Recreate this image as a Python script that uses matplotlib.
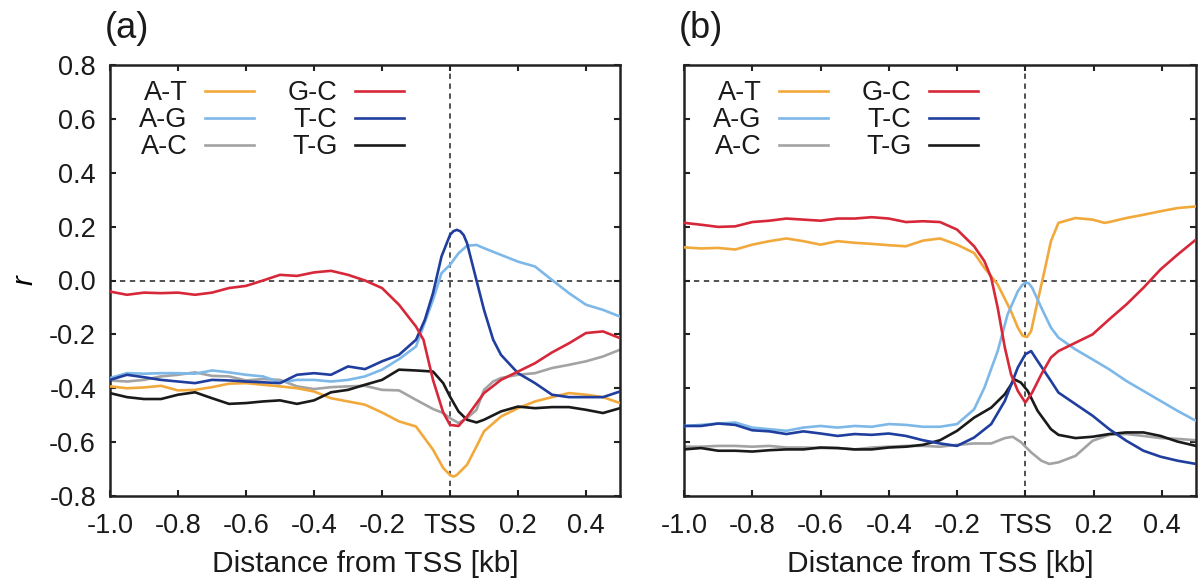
import matplotlib
matplotlib.use("Agg")
import matplotlib.pyplot as plt

plt.rcParams['font.family'] = ['Liberation Sans', 'DejaVu Sans']

# ---------------- data : panel (a) ----------------
xa_std = [-1.0, -0.95, -0.9, -0.85, -0.8, -0.75, -0.7, -0.65, -0.6, -0.55, -0.5,
          -0.45, -0.4, -0.35, -0.3, -0.25, -0.2, -0.15, -0.1]

a_gc_x = xa_std + [-0.078, -0.05, -0.02, 0.0, 0.025, 0.05, 0.1, 0.15, 0.2, 0.25, 0.3, 0.35, 0.4, 0.45, 0.5]
a_gc_y = [-0.041, -0.053, -0.045, -0.047, -0.045, -0.053, -0.045, -0.028, -0.02, 0.0, 0.021,
          0.017, 0.03, 0.036, 0.021, 0.0, -0.028, -0.09, -0.171,
          -0.22, -0.369, -0.49, -0.536, -0.54, -0.505, -0.418, -0.369, -0.338, -0.307, -0.267, -0.233, -0.195, -0.189, -0.214]

a_tc_x = xa_std + [-0.074, -0.05, -0.025, 0.0, 0.01, 0.02, 0.03, 0.04, 0.05, 0.078, 0.1, 0.127, 0.15, 0.2, 0.25, 0.3, 0.35, 0.4, 0.45, 0.5]
a_tc_y = [-0.369, -0.35, -0.359, -0.369, -0.375, -0.381, -0.369, -0.371, -0.375, -0.378, -0.381,
          -0.35, -0.344, -0.35, -0.319, -0.329, -0.3, -0.276, -0.22,
          -0.146, -0.047, 0.089, 0.169, 0.183, 0.188, 0.183, 0.169, 0.139, 0.0, -0.109, -0.22, -0.276, -0.344, -0.381, -0.424, -0.433, -0.433, -0.433, -0.412]

a_ag_x = xa_std + [-0.05, -0.025, 0.0, 0.025, 0.05, 0.078, 0.1, 0.15, 0.2, 0.25, 0.3, 0.35, 0.4, 0.45, 0.5]
a_ag_y = [-0.362, -0.344, -0.346, -0.344, -0.344, -0.346, -0.334, -0.341, -0.35, -0.356, -0.378,
          -0.369, -0.369, -0.375, -0.369, -0.356, -0.331, -0.292, -0.245,
          -0.072, 0.027, 0.058, 0.101, 0.129, 0.132, 0.12, 0.095, 0.07, 0.052, 0.002, -0.047, -0.09, -0.109, -0.134]

a_ac_x = xa_std + [-0.05, -0.02, 0.0, 0.025, 0.05, 0.078, 0.1, 0.127, 0.15, 0.2, 0.25, 0.3, 0.35, 0.4, 0.45, 0.5]
a_ac_y = [-0.371, -0.375, -0.369, -0.356, -0.35, -0.341, -0.354, -0.356, -0.371, -0.366, -0.369,
          -0.393, -0.403, -0.396, -0.393, -0.391, -0.406, -0.408, -0.443,
          -0.477, -0.492, -0.511, -0.529, -0.511, -0.48, -0.406, -0.375, -0.362, -0.35, -0.344, -0.325, -0.313, -0.3, -0.282, -0.257]

a_at_x = xa_std + [-0.05, -0.02, 0.0, 0.01, 0.02, 0.05, 0.078, 0.1, 0.15, 0.2, 0.25, 0.3, 0.35, 0.4, 0.45, 0.5]
a_at_y = [-0.393, -0.4, -0.397, -0.391, -0.408, -0.406, -0.396, -0.383, -0.381, -0.387, -0.393,
          -0.4, -0.412, -0.437, -0.449, -0.461, -0.49, -0.523, -0.542,
          -0.628, -0.696, -0.722, -0.728, -0.722, -0.684, -0.616, -0.56, -0.505, -0.474, -0.449, -0.433, -0.418, -0.424, -0.433, -0.455]

a_tg_x = xa_std + [-0.05, -0.02, 0.0, 0.025, 0.05, 0.078, 0.1, 0.15, 0.2, 0.25, 0.3, 0.35, 0.4, 0.45, 0.5]
a_tg_y = [-0.418, -0.433, -0.44, -0.44, -0.424, -0.415, -0.437, -0.458, -0.455, -0.449, -0.445,
          -0.458, -0.445, -0.415, -0.406, -0.387, -0.369, -0.331, -0.334,
          -0.338, -0.381, -0.431, -0.486, -0.517, -0.527, -0.517, -0.486, -0.468, -0.474, -0.47, -0.47, -0.48, -0.492, -0.474]

# ---------------- data : panel (b) ----------------
xb_std = [-1.0, -0.95, -0.9, -0.85, -0.8, -0.75, -0.7, -0.65, -0.6, -0.55, -0.5,
          -0.45, -0.4, -0.35, -0.3, -0.25, -0.2]

b_gc_x = xb_std + [-0.15, -0.12, -0.1, -0.081, -0.06, -0.042, -0.022, 0.0, 0.02, 0.047, 0.075, 0.097, 0.147, 0.197, 0.246, 0.296, 0.346, 0.396, 0.446, 0.5]
b_gc_y = [0.214, 0.207, 0.199, 0.201, 0.217, 0.222, 0.23, 0.226, 0.222, 0.23, 0.23,
          0.235, 0.23, 0.217, 0.22, 0.217, 0.189,
          0.127, 0.072, 0.01, -0.101, -0.249, -0.348, -0.41, -0.453, -0.416, -0.348, -0.286, -0.262, -0.231, -0.2, -0.144, -0.089, -0.027, 0.041, 0.096, 0.152]

b_at_x = xb_std + [-0.15, -0.12, -0.081, -0.042, -0.022, -0.008, 0.005, 0.017, 0.036, 0.056, 0.075, 0.097, 0.147, 0.197, 0.232, 0.246, 0.296, 0.346, 0.396, 0.446, 0.5]
b_at_y = [0.123, 0.119, 0.121, 0.115, 0.133, 0.146, 0.156, 0.146, 0.133, 0.146, 0.14,
          0.136, 0.131, 0.127, 0.148, 0.156, 0.133,
          0.102, 0.047, -0.015, -0.114, -0.175, -0.205, -0.21, -0.188, -0.077, 0.035, 0.146, 0.214, 0.232, 0.226, 0.214, 0.217, 0.232, 0.244, 0.257, 0.269, 0.275]

b_ag_x = xb_std + [-0.15, -0.12, -0.081, -0.052, -0.022, -0.01, 0.0, 0.01, 0.02, 0.047, 0.075, 0.097, 0.147, 0.197, 0.246, 0.296, 0.346, 0.396, 0.446, 0.5]
b_ag_y = [-0.54, -0.536, -0.531, -0.527, -0.546, -0.552, -0.558, -0.546, -0.54, -0.546, -0.54,
          -0.543, -0.533, -0.536, -0.543, -0.543, -0.533,
          -0.478, -0.398, -0.262, -0.126, -0.04, -0.018, -0.008, -0.01, -0.027, -0.101, -0.175, -0.212, -0.256, -0.293, -0.33, -0.373, -0.41, -0.447, -0.484, -0.521]

b_tc_x = xb_std + [-0.15, -0.1, -0.06, -0.022, 0.0, 0.017, 0.036, 0.075, 0.097, 0.147, 0.197, 0.246, 0.296, 0.346, 0.396, 0.446, 0.5]
b_tc_y = [-0.54, -0.54, -0.531, -0.536, -0.556, -0.56, -0.57, -0.56, -0.568, -0.577, -0.57,
          -0.573, -0.568, -0.577, -0.593, -0.605, -0.614,
          -0.583, -0.533, -0.447, -0.323, -0.274, -0.262, -0.299, -0.373, -0.416, -0.459, -0.502, -0.552, -0.595, -0.632, -0.654, -0.669, -0.681]

b_ac_x = xb_std + [-0.15, -0.1, -0.06, -0.037, -0.013, 0.017, 0.047, 0.07, 0.097, 0.147, 0.197, 0.246, 0.296, 0.346, 0.396, 0.446, 0.5]
b_ac_y = [-0.617, -0.617, -0.614, -0.614, -0.617, -0.614, -0.62, -0.62, -0.622, -0.622, -0.627,
          -0.62, -0.617, -0.614, -0.614, -0.617, -0.61,
          -0.605, -0.605, -0.585, -0.58, -0.6, -0.638, -0.669, -0.681, -0.675, -0.651, -0.595, -0.573, -0.57, -0.577, -0.585, -0.588, -0.593]

b_tg_x = xb_std + [-0.15, -0.1, -0.06, -0.032, -0.013, 0.007, 0.036, 0.075, 0.097, 0.147, 0.197, 0.246, 0.296, 0.346, 0.396, 0.446, 0.5]
b_tg_y = [-0.627, -0.622, -0.632, -0.632, -0.635, -0.63, -0.627, -0.627, -0.62, -0.622, -0.627,
          -0.627, -0.62, -0.617, -0.61, -0.593, -0.558,
          -0.509, -0.472, -0.422, -0.367, -0.379, -0.41, -0.484, -0.552, -0.573, -0.585, -0.58, -0.57, -0.564, -0.564, -0.577, -0.598, -0.614]

labels = ['A-T', 'A-G', 'A-C', 'G-C', 'T-C', 'T-G']
colors = ['#F2A93B', '#7DB8E8', '#A3A3A5', '#D7283A', '#1F3E9E', '#1A1A1A']

panel_a = [(a_at_x, a_at_y), (a_ag_x, a_ag_y), (a_ac_x, a_ac_y),
           (a_gc_x, a_gc_y), (a_tc_x, a_tc_y), (a_tg_x, a_tg_y)]
panel_b = [(b_at_x, b_at_y), (b_ag_x, b_ag_y), (b_ac_x, b_ac_y),
           (b_gc_x, b_gc_y), (b_tc_x, b_tc_y), (b_tg_x, b_tg_y)]
# drawing order (back to front) roughly as in the figure
order = [2, 0, 5, 1, 4, 3]

xticks = [-1.0, -0.8, -0.6, -0.4, -0.2, 0.0, 0.2, 0.4]
xticklabels = ['-1.0', '-0.8', '-0.6', '-0.4', '-0.2', 'TSS', '0.2', '0.4']
yticks = [-0.8, -0.6, -0.4, -0.2, 0.0, 0.2, 0.4, 0.6, 0.8]
yticklabels = ['-0.8', '-0.6', '-0.4', '-0.2', '0.0', '0.2', '0.4', '0.6', '0.8']

fig = plt.figure(figsize=(12, 5.84), dpi=100)
ax_a = fig.add_axes([110/1200, 88/584, 510/1200, 431/584])
ax_b = fig.add_axes([684/1200, 88/584, 512/1200, 431/584])

for ax, data, show_y in [(ax_a, panel_a, True), (ax_b, panel_b, False)]:
    ax.axhline(0, color='#222222', lw=1.1, ls=(0, (3.5, 3)), zorder=1)
    ax.axvline(0, color='#222222', lw=1.1, ls=(0, (3.5, 3)), zorder=1)
    handles = [None] * 6
    for i in order:
        xs, ys = data[i]
        ln, = ax.plot(xs, ys, color=colors[i], lw=1.9, label=labels[i], zorder=2 + order.index(i),
                      solid_joinstyle='round')
        handles[i] = ln
    ax.set_xlim(-1.0, 0.5)
    ax.set_ylim(-0.8, 0.8)
    ax.set_xticks(xticks)
    ax.set_xticklabels(xticklabels)
    ax.set_yticks(yticks)
    if show_y:
        ax.set_yticklabels(yticklabels)
    else:
        ax.set_yticklabels([])
    ax.tick_params(direction='in', top=True, right=True, length=4, width=1.5,
                   labelsize=19.5, color='#222222', labelcolor='#1a1a1a')
    ax.tick_params(axis='x', pad=12)
    ax.tick_params(axis='y', pad=10)
    for s in ax.spines.values():
        s.set_linewidth(1.8)
        s.set_color('#222222')
    ax.set_xlabel('Distance from TSS [kb]', fontsize=21.5, labelpad=8, color='#1a1a1a')
    leg = ax.legend(handles=handles, labels=labels, ncol=2, markerfirst=False, frameon=False,
                    loc='upper left', bbox_to_anchor=(0.057, 0.965), fontsize=19.5,
                    handlelength=1.8, handletextpad=0.65, columnspacing=1.25, labelspacing=0.04,
                    borderaxespad=0.0, borderpad=0.0)
    for t in leg.get_texts():
        t.set_color('#1a1a1a')

ax_a.set_ylabel('r', fontstyle='italic', fontsize=21, labelpad=8)

fig.text(105/1200, 1 - 28/584, '(a)', fontsize=26, ha='left', va='center', color='#1a1a1a')
fig.text(679/1200, 1 - 28/584, '(b)', fontsize=26, ha='left', va='center', color='#1a1a1a')

fig.savefig('out.png', dpi=100)
